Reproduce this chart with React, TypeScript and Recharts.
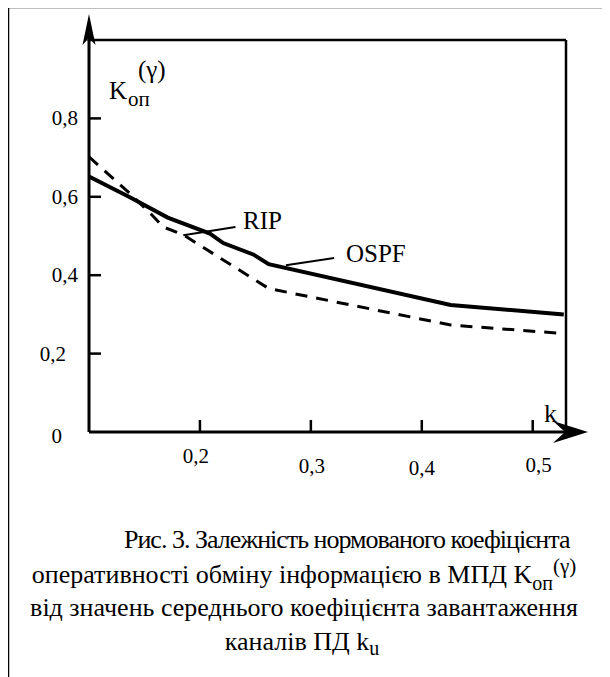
import React from "react";
import { LineChart, Line, XAxis, YAxis, ReferenceLine } from "recharts";

// k (channel load) vs normalised efficiency coefficient
const ospfK = [0.1, 0.136, 0.171, 0.209, 0.221, 0.248, 0.262, 0.426, 0.528];
const ospfValues = [0.652, 0.6, 0.547, 0.506, 0.482, 0.453, 0.428, 0.324, 0.3];
const ripK = [0.1, 0.137, 0.157, 0.167, 0.185, 0.262, 0.426, 0.528];
const ripValues = [0.702, 0.608, 0.553, 0.523, 0.503, 0.366, 0.273, 0.251];

const xTicks = [0.2, 0.3, 0.4, 0.5];
const xTickLabels = ["0,2", "0,3", "0,4", "0,5"];
const yTicks = [0, 0.2, 0.4, 0.6, 0.8];
const yTickLabels = ["0", "0,2", "0,4", "0,6", "0,8"];
const frameYTicks = [0.2, 0.4, 0.6, 0.8];

// leader lines from the curve to its name
const ripLeader = [
  { x: 0.185, y: 0.502 },
  { x: 0.232, y: 0.523 },
];
const ospfLeader = [
  { x: 0.2775, y: 0.4255 },
  { x: 0.321, y: 0.444 },
];

const ospfData = ospfK.map((k, i) => ({ k, v: ospfValues[i] }));
const ripData = ripK.map((k, i) => ({ k, v: ripValues[i] }));

const FONT = "Liberation Serif";
const TICK = 12;

// small hand offsets, the scanned labels are not quite aligned
const xLabelDx = [-4, 1, 0, 6];
const xLabelDy = [31, 41, 43, 40];

function BottomTick(props: any) {
  const { x, y, index } = props;
  return (
    <g>
      <line x1={x} y1={y} x2={x} y2={y - TICK} stroke="#000" strokeWidth={2.5} />
      <text
        x={x + xLabelDx[index]}
        y={y + xLabelDy[index]}
        textAnchor="middle"
        style={{ fontFamily: FONT, fontSize: 21 }}
        fill="#000"
      >
        {xTickLabels[index]}
      </text>
    </g>
  );
}

function LeftTick(props: any) {
  const { x, y, index } = props;
  const isZero = index === 0;
  const dx = isZero ? -27 : index === 1 ? -23 : -11;
  return (
    <g>
      {!isZero && (
        <line x1={x} y1={y} x2={x + TICK} y2={y} stroke="#000" strokeWidth={2.5} />
      )}
      <text
        x={x + dx}
        y={y + (isZero ? 11 : 7)}
        textAnchor="end"
        style={{ fontFamily: FONT, fontSize: 21 }}
        fill="#000"
      >
        {yTickLabels[index]}
      </text>
    </g>
  );
}

function TopTick(props: any) {
  const { x, y } = props;
  return <line x1={x} y1={y} x2={x} y2={y + TICK} stroke="#000" strokeWidth={2.5} />;
}

function RightTick(props: any) {
  const { x, y } = props;
  return <line x1={x} y1={y} x2={x - TICK} y2={y} stroke="#000" strokeWidth={2.5} />;
}

const txt = (size: number) => ({ fontFamily: FONT, fontSize: size });

export default function App() {
  return (
    <div
      style={{
        position: "relative",
        width: 610,
        height: 677,
        marginLeft: -8,
        marginTop: -8,
        background: "#fff",
      }}
    >
      <LineChart
        width={610}
        height={677}
        margin={{ top: 20, right: 24, bottom: 205, left: 0 }}
      >
        <XAxis
          xAxisId="bottom"
          dataKey="k"
          type="number"
          domain={[0.1, 0.53]}
          allowDataOverflow
          ticks={xTicks}
          height={40}
          tickSize={0}
          tickMargin={0}
          tickLine={false}
          axisLine={{ stroke: "#000", strokeWidth: 3 }}
          tick={BottomTick}
        />
        <XAxis
          xAxisId="top"
          orientation="top"
          type="number"
          domain={[0.1, 0.53]}
          allowDataOverflow
          ticks={xTicks}
          height={20}
          tickSize={0}
          tickMargin={0}
          tickLine={false}
          axisLine={{ stroke: "#000", strokeWidth: 2.5 }}
          tick={TopTick}
        />
        <YAxis
          yAxisId="left"
          type="number"
          domain={[0, 1]}
          ticks={yTicks}
          width={89}
          tickSize={0}
          tickMargin={0}
          tickLine={false}
          axisLine={{ stroke: "#000", strokeWidth: 3 }}
          tick={LeftTick}
        />
        <YAxis
          yAxisId="right"
          orientation="right"
          type="number"
          domain={[0, 1]}
          ticks={frameYTicks}
          width={20}
          tickSize={0}
          tickMargin={0}
          tickLine={false}
          axisLine={{ stroke: "#000", strokeWidth: 2.5 }}
          tick={RightTick}
        />
        <Line
          xAxisId="bottom"
          yAxisId="left"
          data={ripData}
          dataKey="v"
          stroke="#000"
          strokeWidth={3}
          strokeDasharray="12 9"
          dot={false}
          isAnimationActive={false}
        />
        <Line
          xAxisId="bottom"
          yAxisId="left"
          data={ospfData}
          dataKey="v"
          stroke="#000"
          strokeWidth={4}
          dot={false}
          isAnimationActive={false}
        />
        <ReferenceLine
          xAxisId="bottom"
          yAxisId="left"
          segment={ripLeader}
          stroke="#000"
          strokeWidth={2}
        />
        <ReferenceLine
          xAxisId="bottom"
          yAxisId="left"
          segment={ospfLeader}
          stroke="#000"
          strokeWidth={2}
        />
      </LineChart>

      <svg
        width={610}
        height={677}
        style={{ position: "absolute", left: 0, top: 0, pointerEvents: "none" }}
        fill="#000"
      >
        {/* page frame */}
        <line x1={7} y1={7} x2={610} y2={7} stroke="#000" strokeWidth={2.5} />
        <line x1={8} y1={6} x2={8} y2={677} stroke="#000" strokeWidth={2.5} />

        {/* axis arrows */}
        <line x1={89} y1={41} x2={89} y2={30} stroke="#000" strokeWidth={3} />
        <polygon points="89,14 95.5,45 89,38 82.5,45" />
        <line x1={565} y1={432} x2={576} y2={432} stroke="#000" strokeWidth={3} />
        <polygon points="588,432 553,421 565,432 553,443" />

        {/* axis names */}
        <text x={544} y={422} style={txt(26)}>k</text>
        <text x={109} y={99} style={txt(25)}>K</text>
        <text x={128} y={106} style={txt(21)}>оп</text>
        <text x={138} y={78} style={txt(25)}>(γ)</text>

        {/* series names */}
        <text x={243} y={229} style={txt(25)}>RIP</text>
        <text x={346} y={262} style={txt(25)}>OSPF</text>

        {/* caption */}
        <text x={124} y={548} style={{ ...txt(26), letterSpacing: -1 }}>
          Рис. 3. Залежність нормованого коефіцієнта
        </text>
        <text x={304} y={583} textAnchor="middle" style={txt(26)}>
          оперативності обміну інформацією в МПД  K
          <tspan style={txt(20)} dy={7}>оп</tspan>
          <tspan style={txt(21)} dy={-17}>(γ)</tspan>
        </text>
        <text x={304} y={616} textAnchor="middle" style={txt(26)}>
          від значень середнього коефіцієнта завантаження
        </text>
        <text x={302} y={650} textAnchor="middle" style={txt(26)}>
          каналів ПД k<tspan style={txt(20)} dy={5}>u</tspan>
        </text>
      </svg>
    </div>
  );
}
